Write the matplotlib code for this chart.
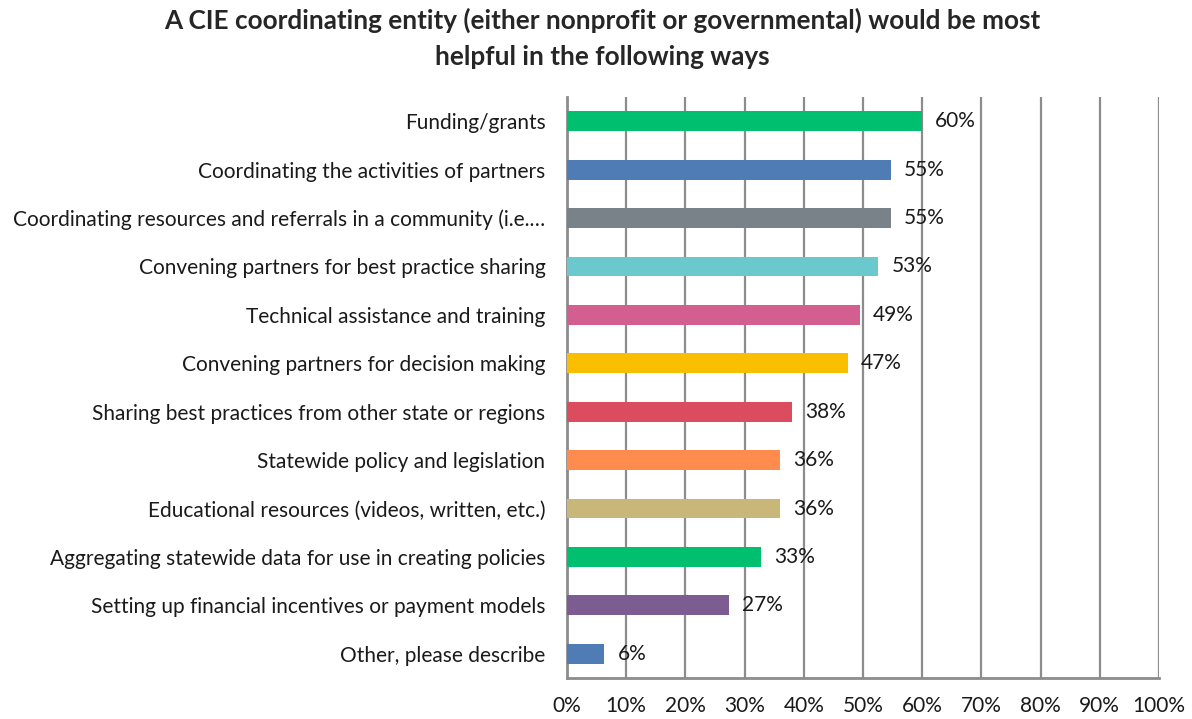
import matplotlib
matplotlib.use("Agg")
import matplotlib.pyplot as plt

categories = [
    "Funding/grants",
    "Coordinating the activities of partners",
    "Coordinating resources and referrals in a community (i.e.…",
    "Convening partners for best practice sharing",
    "Technical assistance and training",
    "Convening partners for decision making",
    "Sharing best practices from other state or regions",
    "Statewide policy and legislation",
    "Educational resources (videos, written, etc.)",
    "Aggregating statewide data for use in creating policies",
    "Setting up financial incentives or payment models",
    "Other, please describe",
]
values = [59.97, 54.7, 54.7, 52.6, 49.5, 47.4, 38.0, 35.9, 35.9, 32.7, 27.4, 6.3]
value_labels = ["60%", "55%", "55%", "53%", "49%", "47%", "38%", "36%", "36%", "33%", "27%", "6%"]
colors = ["#00BF6F", "#507CB6", "#7A8289", "#6BC8CD", "#D25F90", "#F9BE00",
          "#DA4C5E", "#FF8B4F", "#C9B77A", "#00BF6F", "#7D5C91", "#507CB6"]
xticks = [0, 10, 20, 30, 40, 50, 60, 70, 80, 90, 100]
xtick_labels = ["0%", "10%", "20%", "30%", "40%", "50%", "60%", "70%", "80%", "90%", "100%"]
title = "A CIE coordinating entity (either nonprofit or governmental) would be most\nhelpful in the following ways"

plt.rcParams['font.family'] = ['Lato', 'DejaVu Sans']

fig = plt.figure(figsize=(11.92, 7.19), dpi=100)
ax = fig.add_axes([567/1192, 1-678/719, (1159-567)/1192, (678-97)/719])

y = list(range(len(categories)))
ax.barh(y, values, height=0.41, color=colors, zorder=3)
for yi, v, lab in zip(y, values, value_labels):
    ax.annotate(lab, (v, yi), xytext=(9.5, 0), textcoords="offset points",
                va="center", ha="left", fontsize=15, color="#1a1a1a", zorder=4)

ax.set_xlim(0, 100)
ax.set_ylim(len(categories) - 0.5, -0.5)
ax.set_yticks(y)
ax.set_yticklabels(categories, fontsize=15.0, color="#1a1a1a")
ax.set_xticks(xticks)
ax.set_xticklabels(xtick_labels, fontsize=15, color="#1a1a1a")
ax.tick_params(axis="y", length=0, pad=15.5)
ax.tick_params(axis="x", length=0, pad=13)
ax.xaxis.grid(True, color="#8c8c8c", linewidth=1.6, zorder=0)
ax.set_axisbelow(True)
for s in ["top", "right"]:
    ax.spines[s].set_visible(False)
for s in ["left", "bottom"]:
    ax.spines[s].set_color("#8c8c8c")
    ax.spines[s].set_linewidth(2)

fig.text(602/1192, 1-38/719, title, ha="center", va="center", fontsize=18.8,
         fontweight="bold", color="#262626", linespacing=1.6)

fig.savefig("out.png", dpi=100)
